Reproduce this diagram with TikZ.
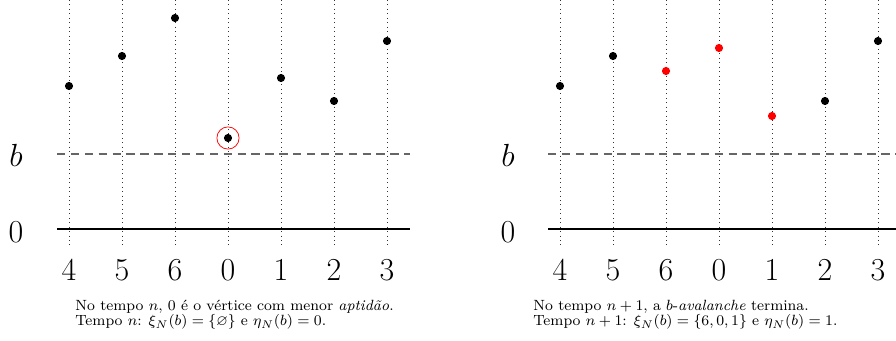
\documentclass[tikz,border=0pt]{standalone}
\usepackage{amsmath,amssymb}
\usepackage{tikz}
\tikzset{
  vtx/.style={circle, fill=black, inner sep=0pt, minimum size=4.4pt},
  hot/.style={vtx, fill=red},
  pick/.style={circle, draw=red, thin, inner sep=0pt, minimum size=12pt},
  guide/.style={dotted, black!80},
  level/.style={black!60, semithick, dash pattern=on 4.5pt off 3pt},
  ground/.style={black, semithick},
  num/.style={font=\LARGE},
  legend/.style={font=\fontsize{8}{8.2}\selectfont, align=left, anchor=west, inner sep=0pt},
}

\begin{document}
\begin{tikzpicture}[x=0.54pt,y=-0.54pt]
  \useasboundingbox (0,0) rectangle (896,341);
  % left panel: tempo n
  \coordinate (Lza) at (57,229); \coordinate (Lzb) at (410,229);
  \coordinate (Lba) at (57,154); \coordinate (Lbb) at (410,154);
  \foreach \v/\h [count=\i] in {4/86,5/56,6/18,0/138,1/78,2/101,3/41}{
    \coordinate (Lt\i) at (16+53*\i,0);
    \coordinate (Lb\i) at (16+53*\i,247);
    \draw[guide] (Lt\i) -- (Lb\i);
    \node[num] (Ln\i) at (16+53*\i,270) {\v};
  }
  \draw[ground] (Lza) -- (Lzb);
  \draw[level] (Lba) -- (Lbb);
  \foreach \v/\h [count=\i] in {4/86,5/56,6/18,0/138,1/78,2/101,3/41}
    \node[vtx] (Lv\i) at (16+53*\i,\h) {};
  \node[pick] (Lmin) at (Lv4) {};
  \node[num] (Lbl) at (16,155) {$b$};
  \node[num] (Lzl) at (16,232) {0};
  \node[legend] (Lcap) at (75,315) {No tempo $n$, 0 é o vértice com menor \textit{aptidão}.\\
    Tempo $n$: $\xi_N(b)=\{\varnothing\}$ e $\eta_N(b)=0$.};

  % right panel: tempo n+1
  \coordinate (Rza) at (548,229); \coordinate (Rzb) at (896,229);
  \coordinate (Rba) at (548,154); \coordinate (Rbb) at (896,154);
  \foreach \v/\h [count=\i] in {4/86,5/56,6/71,0/48,1/116,2/101,3/41}{
    \coordinate (Rt\i) at (507+53*\i,0);
    \coordinate (Rb\i) at (507+53*\i,247);
    \draw[guide] (Rt\i) -- (Rb\i);
    \node[num] (Rn\i) at (507+53*\i,270) {\v};
  }
  \draw[ground] (Rza) -- (Rzb);
  \draw[level] (Rba) -- (Rbb);
  \foreach \v/\h/\s [count=\i] in {4/86/vtx,5/56/vtx,6/71/hot,0/48/hot,1/116/hot,2/101/vtx,3/41/vtx}
    \node[\s] (Rv\i) at (507+53*\i,\h) {};
  \node[num] (Rbl) at (508,155) {$b$};
  \node[num] (Rzl) at (508,232) {0};
  \node[legend] (Rcap) at (533,315) {No tempo $n+1$, a $b$-\textit{avalanche} termina.\\
    Tempo $n+1$: $\xi_N(b)=\{6,0,1\}$ e $\eta_N(b)=1$.};
\end{tikzpicture}
\end{document}
